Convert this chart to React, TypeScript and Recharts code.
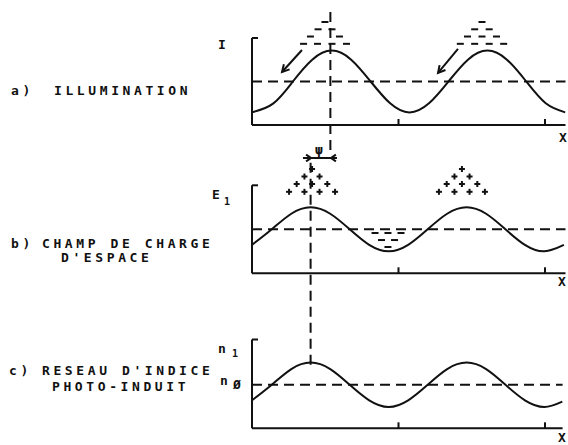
import React from 'react';
import { ComposedChart, Line, XAxis, YAxis, ReferenceLine, ReferenceDot } from 'recharts';

// ---- x positions (in grating-period axis units; ticks at 1 and 2) ----
const xTicks = [1, 2];

// a) illumination I(x)
const xIllum = [0, 0.146, 0.279, 0.411, 0.544, 0.677, 0.81, 0.943, 1.075, 1.208, 1.341, 1.474, 1.607, 1.74, 1.872, 2.005, 2.138];
const illumination = [0.146, 0.249, 0.5, 0.751, 0.855, 0.751, 0.5, 0.249, 0.145, 0.249, 0.5, 0.751, 0.855, 0.751, 0.5, 0.249, 0.145];
const illumMean = 0.5;
const illumPeakX = 0.535;

// b) space-charge field E1(x)
const xField = [0, 0.135, 0.268, 0.401, 0.534, 0.667, 0.8, 0.933, 1.066, 1.199, 1.332, 1.465, 1.598, 1.73, 1.863, 1.996, 2.129];
const field = [0.323, 0.5, 0.677, 0.75, 0.677, 0.5, 0.323, 0.25, 0.323, 0.5, 0.677, 0.75, 0.677, 0.5, 0.323, 0.25, 0.323];
const fieldMean = 0.5;

// c) photo-induced index grating n1(x)
const xIndex = [0, 0.135, 0.268, 0.401, 0.534, 0.667, 0.8, 0.933, 1.066, 1.199, 1.332, 1.465, 1.598, 1.73, 1.863, 1.996, 2.118];
const indexVals = [0.315, 0.49, 0.667, 0.74, 0.667, 0.49, 0.315, 0.24, 0.315, 0.49, 0.667, 0.74, 0.667, 0.49, 0.315, 0.24, 0.3];
const indexMean = 0.49;
const indexPeakX = 0.4;

// charges (annotation positions in panel data units)
const electronsA = [
  { x: 0.498, y: 1.184 },
  { x: 0.451, y: 1.1 }, { x: 0.546, y: 1.1 },
  { x: 0.399, y: 1.017 }, { x: 0.597, y: 1.017 },
  { x: 0.352, y: 0.933 }, { x: 0.447, y: 0.933 }, { x: 0.546, y: 0.933 }, { x: 0.645, y: 0.933 },
  { x: 1.57, y: 1.184 },
  { x: 1.52, y: 1.1 }, { x: 1.619, y: 1.1 },
  { x: 1.471, y: 1.017 }, { x: 1.57, y: 1.017 }, { x: 1.669, y: 1.017 },
  { x: 1.422, y: 0.933 }, { x: 1.52, y: 0.933 }, { x: 1.619, y: 0.933 }, { x: 1.718, y: 0.933 },
];
const arrowsA = [
  { from: { x: 0.341, y: 0.862 }, to: { x: 0.205, y: 0.609 } },
  { from: { x: 1.406, y: 0.874 }, to: { x: 1.27, y: 0.598 } },
];
const plusB = [
  { x: 0.41, y: 1.185 },
  { x: 0.358, y: 1.1 }, { x: 0.461, y: 1.1 },
  { x: 0.305, y: 1.015 }, { x: 0.41, y: 1.015 }, { x: 0.514, y: 1.015 },
  { x: 0.253, y: 0.926 }, { x: 0.358, y: 0.926 }, { x: 0.461, y: 0.926 }, { x: 0.567, y: 0.926 },
  { x: 1.433, y: 1.185 },
  { x: 1.382, y: 1.1 }, { x: 1.485, y: 1.1 },
  { x: 1.329, y: 1.015 }, { x: 1.433, y: 1.015 }, { x: 1.538, y: 1.015 },
  { x: 1.276, y: 0.926 }, { x: 1.382, y: 0.926 }, { x: 1.485, y: 0.926 }, { x: 1.59, y: 0.926 },
];
const minusB = [
  { x: 0.84, y: 0.458 }, { x: 0.928, y: 0.458 }, { x: 1.017, y: 0.458 },
  { x: 0.884, y: 0.378 }, { x: 0.973, y: 0.378 },
  { x: 0.928, y: 0.299 },
];
const psiY = 1.31;
const psiSpan = [0.348, 0.58];
const psiTips = [0.403, 0.539];

const tableIllum = xIllum.map((x, i) => ({ x, v: illumination[i] }));
const tableField = xField.map((x, i) => ({ x, v: field[i] }));
const tableIndex = xIndex.map((x, i) => ({ x, v: indexVals[i] }));

const INK = '#111';
const SW = 2;
const DASH = '10 6';

const minusShape = (p: any) => (
  <line x1={p.cx - 3.5} x2={p.cx + 3.5} y1={p.cy} y2={p.cy} stroke={INK} strokeWidth={2} />
);
const plusShape = (p: any) => (
  <g>
    <line x1={p.cx - 3} x2={p.cx + 3} y1={p.cy} y2={p.cy} stroke={INK} strokeWidth={2} />
    <line x1={p.cx} x2={p.cx} y1={p.cy - 3} y2={p.cy + 3} stroke={INK} strokeWidth={2} />
  </g>
);
const arrowShape = (len: number, ang: number, drawShaft = true) => (p: any) => {
  const { x1, y1, x2, y2 } = p;
  const dx = x1 - x2;
  const dy = y1 - y2;
  const d = Math.hypot(dx, dy) || 1;
  const ux = dx / d;
  const uy = dy / d;
  const c = Math.cos(ang);
  const s = Math.sin(ang);
  const ax = x2 + len * (ux * c - uy * s);
  const ay = y2 + len * (ux * s + uy * c);
  const bx = x2 + len * (ux * c + uy * s);
  const by = y2 + len * (-ux * s + uy * c);
  return (
    <g>
      {drawShaft && <line x1={x1} y1={y1} x2={x2} y2={y2} stroke={INK} strokeWidth={SW} />}
      <polyline points={`${ax},${ay} ${x2},${y2} ${bx},${by}`} fill="none" stroke={INK} strokeWidth={SW} />
    </g>
  );
};

const axisLine = { stroke: INK, strokeWidth: SW };
const noLabel = () => <g />;

const txt: React.CSSProperties = {
  position: 'absolute',
  fontFamily: '"DejaVu Sans Mono", monospace',
  fontWeight: 'bold',
  fontSize: 13,
  lineHeight: '13px',
  whiteSpace: 'pre',
  color: INK,
  letterSpacing: 3.6,
};

const T = ({ x, y, children, style }: any) => (
  <div style={{ ...txt, left: x, top: y, ...style }}>{children}</div>
);

export default function App() {
  return (
    <div style={{ position: 'absolute', left: 0, top: 0, width: 568, height: 445, background: '#fff', overflow: 'hidden' }}>
      {/* Panel a */}
      <div style={{ position: 'absolute', left: 0, top: 0 }}>
        <ComposedChart width={568} height={160} margin={{ top: 38, left: 252, right: 2.5, bottom: 35 }}>
          <XAxis type="number" dataKey="x" domain={[0, 2.14]} ticks={xTicks} mirror tick={noLabel} tickSize={6} axisLine={axisLine} tickLine={axisLine} />
          <YAxis type="number" domain={[0, 1]} ticks={[1]} mirror tick={noLabel} tickSize={6} axisLine={axisLine} tickLine={axisLine} />
          <ReferenceLine y={illumMean} stroke={INK} strokeWidth={SW} strokeDasharray={DASH} ifOverflow="visible" />
          <ReferenceLine segment={[{ x: illumPeakX, y: 1.3 }, { x: illumPeakX, y: -0.31 }]} stroke={INK} strokeWidth={SW} strokeDasharray={DASH} ifOverflow="visible" />
          <Line data={tableIllum} dataKey="v" type="natural" stroke={INK} strokeWidth={SW} dot={false} isAnimationActive={false} />
          {electronsA.map((p, i) => (
            <ReferenceDot key={'ea' + i} x={p.x} y={p.y} r={3} ifOverflow="visible" shape={minusShape} />
          ))}
          {arrowsA.map((a, i) => (
            <ReferenceLine key={'aa' + i} segment={[a.from, a.to]} ifOverflow="visible" shape={arrowShape(8, 0.5)} />
          ))}
        </ComposedChart>
      </div>

      {/* Panel b */}
      <div style={{ position: 'absolute', left: 0, top: 140 }}>
        <ComposedChart width={568} height={160} margin={{ top: 45.3, left: 252, right: 2.5, bottom: 26.7 }}>
          <XAxis type="number" dataKey="x" domain={[0, 2.14]} ticks={xTicks} mirror tick={noLabel} tickSize={6} axisLine={axisLine} tickLine={axisLine} />
          <YAxis type="number" domain={[0, 1]} ticks={[1]} mirror tick={noLabel} tickSize={6} axisLine={axisLine} tickLine={axisLine} />
          <ReferenceLine y={fieldMean} stroke={INK} strokeWidth={SW} strokeDasharray={DASH} ifOverflow="visible" />
          <Line data={tableField} dataKey="v" type="natural" stroke={INK} strokeWidth={SW} dot={false} isAnimationActive={false} />
          {plusB.map((p, i) => (
            <ReferenceDot key={'pb' + i} x={p.x} y={p.y} r={3} ifOverflow="visible" shape={plusShape} />
          ))}
          {minusB.map((p, i) => (
            <ReferenceDot key={'mb' + i} x={p.x} y={p.y} r={3} ifOverflow="visible" shape={minusShape} />
          ))}
          <ReferenceLine segment={[{ x: psiSpan[0], y: psiY }, { x: psiSpan[1], y: psiY }]} stroke={INK} strokeWidth={SW} ifOverflow="visible" />
          <ReferenceLine segment={[{ x: psiSpan[0], y: psiY }, { x: psiTips[0], y: psiY }]} ifOverflow="visible" shape={arrowShape(6, 0.6, false)} />
          <ReferenceLine segment={[{ x: psiSpan[1], y: psiY }, { x: psiTips[1], y: psiY }]} ifOverflow="visible" shape={arrowShape(6, 0.6, false)} />
        </ComposedChart>
      </div>

      {/* Panel c */}
      <div style={{ position: 'absolute', left: 0, top: 150 }}>
        <ComposedChart width={568} height={295} margin={{ top: 189.5, left: 252, right: 5.4, bottom: 16.7 }}>
          <XAxis type="number" dataKey="x" domain={[0, 2.12]} ticks={xTicks} mirror tick={noLabel} tickSize={6} axisLine={axisLine} tickLine={axisLine} />
          <YAxis type="number" domain={[0, 1]} ticks={[1]} mirror tick={noLabel} tickSize={6} axisLine={axisLine} tickLine={axisLine} />
          <ReferenceLine y={indexMean} stroke={INK} strokeWidth={SW} strokeDasharray={DASH} ifOverflow="visible" />
          <ReferenceLine segment={[{ x: indexPeakX, y: 2.99 }, { x: indexPeakX, y: 0.66 }]} stroke={INK} strokeWidth={SW} strokeDasharray={DASH} ifOverflow="visible" />
          <Line data={tableIndex} dataKey="v" type="natural" stroke={INK} strokeWidth={SW} dot={false} isAnimationActive={false} />
        </ComposedChart>
      </div>

      {/* texts */}
      <T x={11} y={84}>a)</T>
      <T x={54} y={84}>ILLUMINATION</T>
      <T x={11} y={237}>b)</T>
      <T x={42} y={237}>CHAMP DE CHARGE</T>
      <T x={61} y={251}>D'ESPACE</T>
      <T x={9} y={364}>c)</T>
      <T x={42} y={364}>RESEAU D'INDICE</T>
      <T x={52} y={380}>PHOTO-INDUIT</T>

      <T x={218} y={38} style={{ letterSpacing: 0 }}>I</T>
      <T x={212} y={188} style={{ letterSpacing: 0 }}>E</T>
      <T x={224} y={195} style={{ letterSpacing: 0, fontSize: 10 }}>1</T>
      <T x={218} y={342} style={{ letterSpacing: 0 }}>n</T>
      <T x={232} y={347} style={{ letterSpacing: 0, fontSize: 10 }}>1</T>
      <T x={220} y={374} style={{ letterSpacing: 0 }}>n</T>
      <T x={233} y={378} style={{ letterSpacing: 0 }}>Ø</T>
      <T x={315} y={143} style={{ letterSpacing: 0 }}>ψ</T>
      <T x={559} y={131} style={{ letterSpacing: 0 }}>X</T>
      <T x={558} y={275} style={{ letterSpacing: 0 }}>X</T>
      <T x={558} y={431} style={{ letterSpacing: 0 }}>X</T>
    </div>
  );
}
